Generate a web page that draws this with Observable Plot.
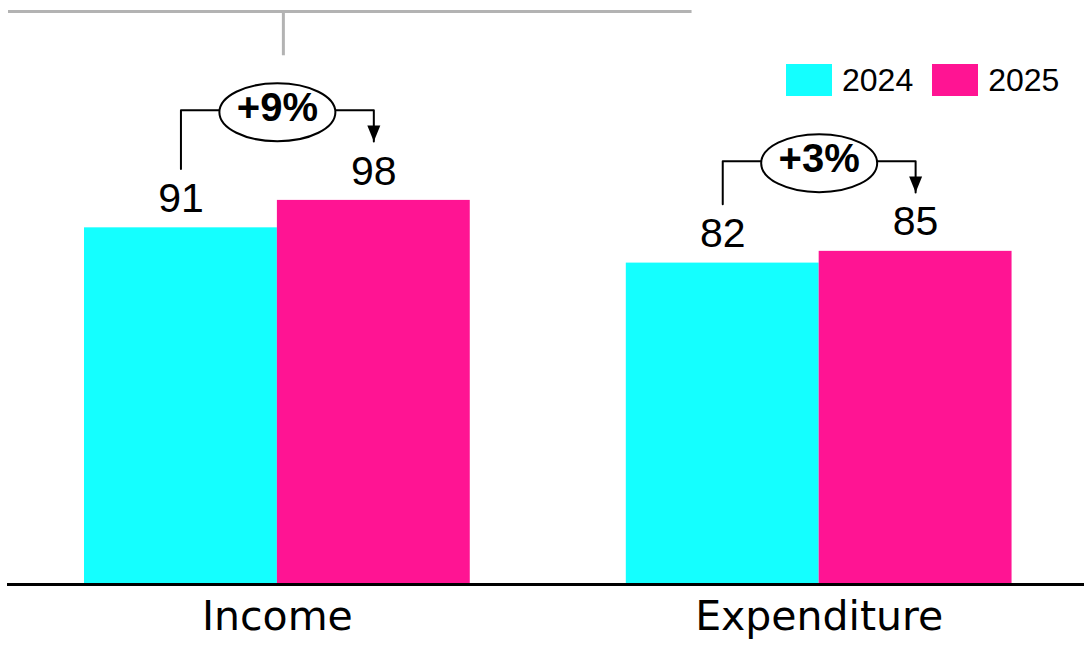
<!DOCTYPE html>
<html>
<head>
<meta charset="utf-8">
<script src="https://cdn.jsdelivr.net/npm/d3@7"></script>
<script src="https://cdn.jsdelivr.net/npm/@observablehq/plot@0.6"></script>
<style>
  html, body { margin: 0; padding: 0; background: #fff; }
  #wrap { position: relative; width: 1084px; height: 645px; overflow: hidden; }
  .legend { position: absolute; top: 64px; left: 786px; display: flex; align-items: center;
            font-family: "Liberation Sans", Arial, sans-serif; font-size: 32px; color: #000; }
  .legend .sw { width: 46px; height: 32px; display: inline-block; }
  .legend .lab { margin-left: 10px; margin-right: 19px; line-height: 32px; }
</style>
</head>
<body>
<div id="wrap"></div>
<script>
// ---- data ----
const categories = ["Income", "Expenditure"];
const years = ["2024", "2025"];
const values2024 = [91, 82];
const values2025 = [98, 85];
const changeLabels = ["+9%", "+3%"];
const colors = ["#14FFFF", "#FF1493"];
// decorative grey stem at the top (value units)
const topStemY = [134.9, 146.2];

// ---- derived tables ----
const bars = categories.flatMap((c, i) => [
  {cat: c, year: years[0], value: values2024[i]},
  {cat: c, year: years[1], value: values2025[i]}
]);
const ann = categories.map((c, i) => ({
  cat: c, v1: values2024[i], v2: values2025[i],
  top: Math.max(values2024[i], values2025[i]) + 23,
  label: changeLabels[i]
}));
const bracket = ann.flatMap(a => [
  {cat: a.cat, year: years[0], y: a.v1 + 15},
  {cat: a.cat, year: years[0], y: a.top},
  {cat: a.cat, year: years[1], y: a.top},
  {cat: a.cat, year: years[1], y: a.v2 + 15}
]);

const K = 0.5523;
const ellipseSymbol = {
  draw(ctx) {
    const rx = 58, ry = 29, kx = rx * K, ky = ry * K;
    ctx.moveTo(-rx, 0);
    ctx.bezierCurveTo(-rx, -ky, -kx, -ry, 0, -ry);
    ctx.bezierCurveTo(kx, -ry, rx, -ky, rx, 0);
    ctx.bezierCurveTo(rx, ky, kx, ry, 0, ry);
    ctx.bezierCurveTo(-kx, ry, -rx, ky, -rx, 0);
    ctx.closePath();
  }
};
const arrowSymbol = {
  draw(ctx) {
    ctx.moveTo(-6.5, -16);
    ctx.lineTo(6.5, -16);
    ctx.lineTo(0, 0);
    ctx.closePath();
  }
};

const numFont = "Liberation Sans, Arial, sans-serif";

const chart = Plot.plot({
  width: 1084,
  height: 645,
  marginLeft: 8,
  marginRight: 0,
  marginTop: 0,
  marginBottom: 61,
  style: {background: "transparent", overflow: "visible"},
  fx: {domain: categories, paddingInner: 0.288, paddingOuter: 0.137, align: 0.512, round: false, label: null},
  x: {domain: years, padding: 0, round: false, axis: null},
  y: {domain: [0, 149], axis: null},
  color: {domain: years, range: colors},
  marks: [
    Plot.frame({facet: "super", anchor: "top", insetTop: 11, insetLeft: -75, insetRight: 322, stroke: "#b3b3b3", strokeWidth: 3}),
    Plot.ruleX([{cat: "Income"}], {fx: "cat", x: null, y1: topStemY[0], y2: topStemY[1], dx: 6, stroke: "#b3b3b3", strokeWidth: 3}),
    Plot.barY(bars, {fx: "cat", x: "year", y: "value", fill: "year"}),
    Plot.frame({facet: "super", anchor: "bottom", insetLeft: -76, insetRight: -72, stroke: "#000", strokeWidth: 3}),
    Plot.text(bars, {fx: "cat", x: "year", y: "value", text: d => String(d.value), dy: -29,
      fontSize: 41, fontFamily: numFont, fill: "#000"}),
    Plot.line(bracket, {fx: "cat", x: "year", y: "y", z: "cat", stroke: "#000", strokeWidth: 2, curve: "linear"}),
    Plot.dot(ann, {fx: "cat", x: () => years[1], y: d => d.v2 + 15, symbol: arrowSymbol, fill: "#000", stroke: "none"}),
    Plot.dot(ann, {fx: "cat", y: "top", dy: 2, symbol: ellipseSymbol, fill: "#fff", stroke: "#000", strokeWidth: 2}),
    Plot.text(ann, {fx: "cat", y: "top", dy: -2, text: "label", fontSize: 40, fontWeight: "bold",
      fontFamily: numFont, fill: "#000"}),
    Plot.axisFx({anchor: "bottom", tickSize: 0, tickPadding: 16, fontSize: 41,
      fontFamily: "DejaVu Sans, sans-serif", label: null, fill: "#000"})
  ]
});

const wrap = document.getElementById("wrap");
wrap.appendChild(chart);

// legend
const legend = document.createElement("div");
legend.className = "legend";
years.forEach((y, i) => {
  const sw = document.createElement("span");
  sw.className = "sw";
  sw.style.background = colors[i];
  const lab = document.createElement("span");
  lab.className = "lab";
  lab.textContent = y;
  legend.appendChild(sw);
  legend.appendChild(lab);
});
wrap.appendChild(legend);
</script>
</body>
</html>
